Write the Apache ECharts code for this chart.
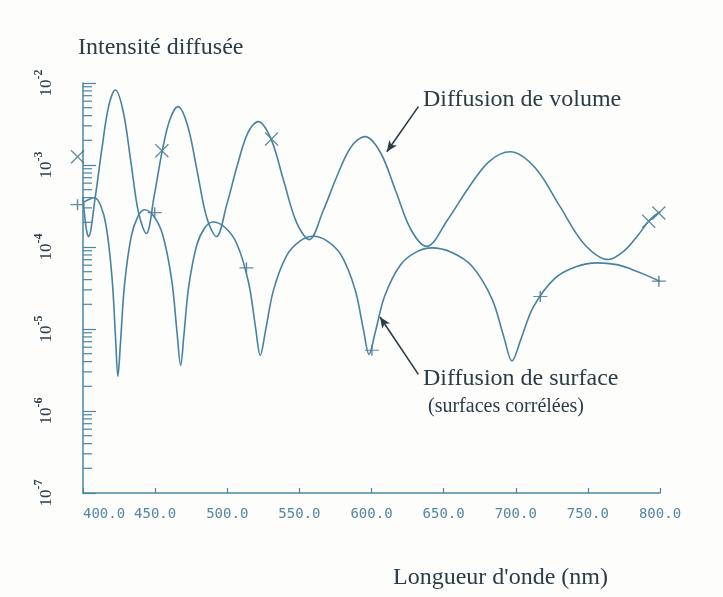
<!DOCTYPE html>
<html>
<head>
<meta charset="utf-8">
<script src="https://cdn.jsdelivr.net/npm/echarts@6/dist/echarts.min.js"></script>
<style>
html,body{margin:0;padding:0;background:#fdfdfc;}
#c{width:723px;height:597px;}
</style>
</head>
<body>
<div id="c"></div>
<script>
// ---- data (wavelength in nm, scattered intensity) ----
const xMin = 400, xMax = 800;
const xTickStep = 50;
const yExponents = [-7, -6, -5, -4, -3, -2];

const volumeNm = [400, 402, 403.8, 408.5, 413.1, 417.8, 422.4, 427.8, 433.2, 438.5, 443.9,
  449.4, 454.9, 460.3, 465.8, 472.5, 479.2, 485.8, 492.5, 499.7, 507.0, 514.2, 521.4,
  530.3, 539.1, 548.0, 556.8, 566.5, 576.2, 585.8, 595.5, 606.2, 616.9, 627.6, 638.3,
  652.8, 667.3, 681.7, 696.2, 713.3, 730.3, 747.4, 764.4, 775, 785, 792.2, 800];
const volumeVal = [4.07e-4, 1.78e-4, 1.34e-4, 4.07e-4, 1.58e-3, 5.22e-3, 8.22e-3, 4.56e-3, 1.09e-3, 2.62e-4, 1.46e-4,
  4.25e-4, 1.48e-3, 3.61e-3, 5.15e-3, 3.03e-3, 8.30e-4, 2.28e-4, 1.34e-4, 3.31e-4, 9.91e-4, 2.45e-3, 3.38e-3,
  2.08e-3, 6.44e-4, 2.00e-4, 1.23e-4, 2.77e-4, 7.40e-4, 1.66e-3, 2.22e-3, 1.42e-3, 4.76e-4, 1.60e-4, 1.02e-4,
  2.15e-4, 5.28e-4, 1.11e-3, 1.45e-3, 9.31e-4, 3.19e-4, 1.09e-4, 7.03e-5, 8.91e-5, 1.41e-4, 2.06e-4, 2.69e-4];

const surfaceNm = [400, 408.0, 412.05, 416.1, 420.15, 422.6, 424.2, 426.05, 428.8, 433.45, 438.1, 442.7,
  448.95, 455.2, 461.45, 465.2, 467.7, 469.94, 473.3, 478.9, 484.5, 490.1,
  498.3, 506.5, 514.7, 519.6, 522.9, 526.57, 532.1, 541.25, 550.4, 559.6,
  569.3, 579.0, 588.6, 594.4, 598.3, 602.65, 609.2, 620.05, 630.9, 641.8,
  655.7, 669.6, 683.5, 691.8, 697.4, 703.3, 712.15, 726.9, 741.65, 756.4, 770, 780, 790, 800];
const surfaceVal = [3.47e-4, 3.99e-4, 3.27e-4, 1.79e-4, 4.18e-5, 7.59e-6, 2.65e-6, 7.08e-6, 3.48e-5, 1.35e-4, 2.37e-4, 2.85e-4,
  2.39e-4, 1.42e-4, 3.99e-5, 9.04e-6, 3.61e-6, 8.39e-6, 3.30e-5, 1.06e-4, 1.72e-4, 2.02e-4,
  1.74e-4, 1.11e-4, 3.74e-5, 1.05e-5, 4.78e-6, 9.64e-6, 3.00e-5, 7.91e-5, 1.18e-4, 1.35e-4,
  1.18e-4, 7.94e-5, 3.03e-5, 9.84e-6, 4.91e-6, 9.20e-6, 2.54e-5, 6.04e-5, 8.65e-5, 9.75e-5,
  8.59e-5, 5.86e-5, 2.33e-5, 7.94e-6, 4.07e-6, 7.26e-6, 1.85e-5, 4.12e-5, 5.74e-5, 6.41e-5, 6.10e-5, 5.37e-5, 4.57e-5, 3.80e-5];

// point markers drawn on the curves
const volumeMarkNm = [396.2, 454.7, 530.7, 792.2, 799.2];
const volumeMarkVal = [1.26e-3, 1.49e-3, 2.08e-3, 2.06e-4, 2.60e-4];
const surfaceMarkNm = [396.2, 449.7, 513.3, 600.3, 717.0, 799.2];
const surfaceMarkVal = [3.28e-4, 2.62e-4, 5.57e-5, 5.5e-6, 2.49e-5, 3.83e-5];

// annotation arrows [start, end] in data coordinates
const volumeArrow = [[632.5, 5.15e-3], [610.6, 1.45e-3]];
const surfaceArrow = [[632.5, 2.8e-6], [605.9, 1.4e-5]];

// minor log ticks
const minorMantissas = [2, 3, 4, 5, 6, 7, 8, 9];

const labels = {
  yTitle: 'Intensité diffusée',
  xTitle: "Longueur d'onde (nm)",
  volume: 'Diffusion de volume',
  surface: 'Diffusion de surface',
  surface2: '(surfaces corrélées)'
};

// ---- build ----
const lineColor = '#4683a1';
const axisColor = '#4a86a3';
const textColor = '#2c3c47';
const serif = '"Liberation Serif", "DejaVu Serif", serif';

const zip = (a, b) => a.map((v, i) => [v, b[i]]);
const minorTicks = [];
for (let e = yExponents[0]; e < yExponents[yExponents.length - 1]; e++) {
  minorMantissas.forEach(m => minorTicks.push([xMin, m * Math.pow(10, e)]));
}

const chart = echarts.init(document.getElementById('c'), null, {renderer: 'canvas'});
const option = {
  backgroundColor: '#fdfdfc',
  animation: false,
  grid: {left: 83, right: 63, top: 83, bottom: 104, outerBoundsMode: 'none'},
  xAxis: {
    type: 'value', min: xMin, max: xMax, interval: xTickStep,
    axisLine: {lineStyle: {color: axisColor, width: 1.5}},
    axisTick: {inside: true, length: 5, lineStyle: {color: axisColor, width: 1.2}},
    splitLine: {show: false},
    axisLabel: {
      margin: 14, color: '#5486a2', fontFamily: '"DejaVu Sans Mono", monospace', fontSize: 14,
      alignMinLabel: 'left',
      formatter: v => v.toFixed(1)
    }
  },
  yAxis: {
    type: 'log', logBase: 10, min: Math.pow(10, yExponents[0]), max: Math.pow(10, yExponents[yExponents.length - 1]),
    splitNumber: 5,
    axisLine: {show: true, lineStyle: {color: axisColor, width: 1.5}},
    axisTick: {inside: true, length: 13, lineStyle: {color: axisColor, width: 1.2}},
    splitLine: {show: false},
    axisLabel: {
      rotate: 90, margin: 28,
      formatter: v => {
        const e = Math.round(Math.log10(v));
        const idx = yExponents.indexOf(e);
        return idx < 0 ? '' : '{b|10}{e|' + yExponents[idx] + '}';
      },
      rich: {
        b: {fontFamily: serif, fontSize: 17, color: textColor, lineHeight: 22, verticalAlign: 'bottom'},
        e: {fontFamily: serif, fontSize: 12, color: textColor, lineHeight: 22, verticalAlign: 'top', fontWeight: 'bold'}
      }
    }
  },
  series: [
    {
      type: 'custom', silent: true, clip: false,
      renderItem: (params, api) => {
        const p = api.coord([api.value(0), api.value(1)]);
        return {type: 'line', shape: {x1: p[0], y1: p[1], x2: p[0] + 9, y2: p[1]},
          style: {stroke: axisColor, lineWidth: 1.2}};
      },
      data: minorTicks, z: 1
    },
    {
      name: labels.volume, type: 'line', data: zip(volumeNm, volumeVal),
      smooth: 0.35, showSymbol: false, clip: false,
      lineStyle: {color: lineColor, width: 1.6},
      markLine: {
        silent: true, symbol: ['none', 'arrow'], symbolSize: [7, 11],
        label: {show: false},
        lineStyle: {color: textColor, width: 1.6, type: 'solid'},
        data: [[{coord: volumeArrow[0]}, {coord: volumeArrow[1]}]]
      }
    },
    {
      name: labels.surface, type: 'line', data: zip(surfaceNm, surfaceVal),
      smooth: 0.35, showSymbol: false, clip: false,
      lineStyle: {color: lineColor, width: 1.6},
      markLine: {
        silent: true, symbol: ['none', 'arrow'], symbolSize: [7, 11],
        label: {show: false},
        lineStyle: {color: textColor, width: 1.6, type: 'solid'},
        data: [[{coord: surfaceArrow[0]}, {coord: surfaceArrow[1]}]]
      }
    },
    {
      type: 'scatter', data: zip(volumeMarkNm, volumeMarkVal), clip: false,
      symbol: 'path://M0,0L10,10M10,0L0,10', symbolSize: 13,
      itemStyle: {color: 'none', borderColor: '#3e6f88', borderWidth: 1.3}
    },
    {
      type: 'scatter', data: zip(surfaceMarkNm, surfaceMarkVal), clip: false,
      symbol: 'path://M0,5L10,5M5,0L5,10', symbolSize: [14, 11],
      itemStyle: {color: 'none', borderColor: '#3e6f88', borderWidth: 1.3}
    }
  ],
  graphic: [
    {type: 'text', style: {text: labels.yTitle, x: 78, y: 48, verticalAlign: 'middle', font: '24px ' + serif, fill: textColor}},
    {type: 'text', style: {text: labels.xTitle, x: 393, y: 578, verticalAlign: 'middle', font: '24px ' + serif, fill: textColor}},
    {type: 'text', style: {text: labels.volume, x: 423, y: 100, verticalAlign: 'middle', font: '24px ' + serif, fill: textColor}},
    {type: 'text', style: {text: labels.surface, x: 423, y: 379, verticalAlign: 'middle', font: '24px ' + serif, fill: textColor}},
    {type: 'text', style: {text: labels.surface2, x: 428, y: 407, verticalAlign: 'middle', font: '20px ' + serif, fill: textColor}}
  ]
};
chart.setOption(option);
</script>
</body>
</html>
